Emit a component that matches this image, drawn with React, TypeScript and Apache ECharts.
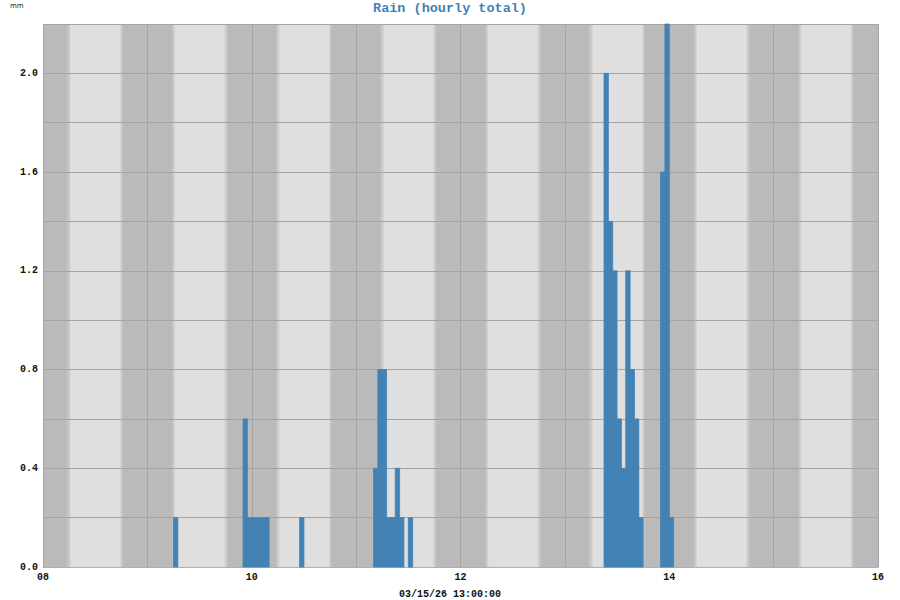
import React, { useEffect, useRef } from 'react';
import * as echarts from 'echarts';

// Hours since 03/08 00:00 at which each hourly rain bar starts
const rainHours = [30, 46, 47, 48, 49, 50, 51, 59, 76, 77, 78, 79, 80, 81, 82, 84, 129, 130, 131, 132, 133, 134, 135, 136, 137, 142, 143, 144];
// Hourly rain totals (mm)
const rainValues = [0.2, 0.6, 0.2, 0.2, 0.2, 0.2, 0.2, 0.2, 0.4, 0.8, 0.8, 0.2, 0.2, 0.4, 0.2, 0.2, 2.0, 1.4, 1.2, 0.6, 0.4, 1.2, 0.8, 0.6, 0.2, 1.6, 2.2, 0.2];

const dayCount = 8; // 03/08 .. 03/16
const morningTwilight = [5.6, 6.5]; // hours of day
const eveningTwilight = [17.6, 18.4];

const xTickLabels = ['08', '10', '12', '14', '16'];
const yTickLabels = ['0.0', '0.4', '0.8', '1.2', '1.6', '2.0'];

const titleText = 'Rain (hourly total)';
const unitText = 'mm';
const timeStampText = '03/15/26 13:00:00';

const DARK = '#bababa';
const LIGHT = '#dfdfdf';
const BAR = '#4282b4';
const GRIDLINE = '#a4a4a4';
const MONO = '"Liberation Mono", "DejaVu Sans Mono", monospace';

function buildBands() {
  const bands: number[][] = [];
  let prev = 0;
  for (let d = 0; d < dayCount; d++) {
    const base = d * 24;
    bands.push([prev, base + morningTwilight[0], 0]);
    bands.push([base + morningTwilight[0], base + morningTwilight[1], 1]);
    bands.push([base + morningTwilight[1], base + eveningTwilight[0], 3]);
    bands.push([base + eveningTwilight[0], base + eveningTwilight[1], 2]);
    prev = base + eveningTwilight[1];
  }
  bands.push([prev, dayCount * 24, 0]);
  return bands;
}

export default function App() {
  const ref = useRef<HTMLDivElement>(null);
  useEffect(() => {
    document.body.style.margin = '0';
    if (!ref.current) return;
    const chart = echarts.init(ref.current, null, { renderer: 'svg' });
    const bands = buildBands();
    const bars = rainHours.map((h, i) => [h, h + 1, rainValues[i]]);
    chart.setOption({
      animation: false,
      backgroundColor: '#ffffff',
      title: {
        text: titleText,
        left: 'center',
        top: 1,
        padding: 0,
        textStyle: { fontFamily: MONO, fontSize: 13.5, fontWeight: 'bold', color: BAR },
      },
      graphic: [
        { type: 'text', left: 10, top: 2, style: { text: unitText, fontSize: 7, fontFamily: 'DejaVu Sans', fill: '#222' } },
        {
          type: 'text', x: 450, y: 594,
          style: { text: timeStampText, fontFamily: MONO, fontSize: 10, fontWeight: 'bold', fill: '#111', align: 'center', verticalAlign: 'middle' },
        },
      ],
      grid: { left: 43, right: 22, top: 24, bottom: 33, show: false },
      xAxis: {
        type: 'value', min: 0, max: dayCount * 24, interval: 24, z: 1,
        axisLine: { show: true, onZero: false, lineStyle: { color: '#9fb4c8', width: 1 } },
        axisTick: { show: false },
        splitLine: { show: true, lineStyle: { color: GRIDLINE, width: 1 } },
        axisLabel: {
          margin: 5, fontFamily: MONO, fontSize: 10, fontWeight: 'bold', color: '#111',
          formatter: (v: number) => (v % 48 === 0 ? xTickLabels[v / 48] : ''),
        },
      },
      yAxis: {
        type: 'value', min: 0, max: 2.2, interval: 0.2, z: 1,
        axisLine: { show: false },
        axisTick: { show: false },
        splitLine: { show: true, lineStyle: { color: GRIDLINE, width: 1 } },
        axisLabel: {
          margin: 5, fontFamily: MONO, fontSize: 10, fontWeight: 'bold', color: '#111',
          formatter: (v: number) => {
            const k = Math.round(v * 10);
            return k % 4 === 0 ? yTickLabels[k / 4] : '';
          },
        },
      },
      series: [
        {
          type: 'custom', z: 0, silent: true,
          data: bands,
          encode: { x: [0, 1] },
          renderItem: (params: any, api: any) => {
            const s = api.coord([api.value(0), 0]);
            const e = api.coord([api.value(1), 0]);
            const cs = params.coordSys;
            const kind = api.value(2);
            let fill: any = kind === 0 ? DARK : LIGHT;
            if (kind === 1) fill = new echarts.graphic.LinearGradient(0, 0, 1, 0, [{ offset: 0, color: DARK }, { offset: 1, color: LIGHT }]);
            if (kind === 2) fill = new echarts.graphic.LinearGradient(0, 0, 1, 0, [{ offset: 0, color: LIGHT }, { offset: 1, color: DARK }]);
            return { type: 'rect', shape: { x: s[0], y: cs.y, width: e[0] - s[0] + 0.3, height: cs.height }, style: { fill } };
          },
        },
        {
          type: 'custom', z: 2,
          data: bars,
          encode: { x: [0, 1], y: 2 },
          renderItem: (params: any, api: any) => {
            const p0 = api.coord([api.value(0), api.value(2)]);
            const p1 = api.coord([api.value(1), 0]);
            return {
              type: 'rect',
              shape: { x: p0[0], y: p0[1], width: p1[0] - p0[0], height: p1[1] - p0[1] },
              style: { fill: BAR, stroke: BAR, lineWidth: 0.8 },
            };
          },
        },
      ],
    });
    return () => chart.dispose();
  }, []);
  return <div ref={ref} style={{ width: 900, height: 600 }} />;
}
